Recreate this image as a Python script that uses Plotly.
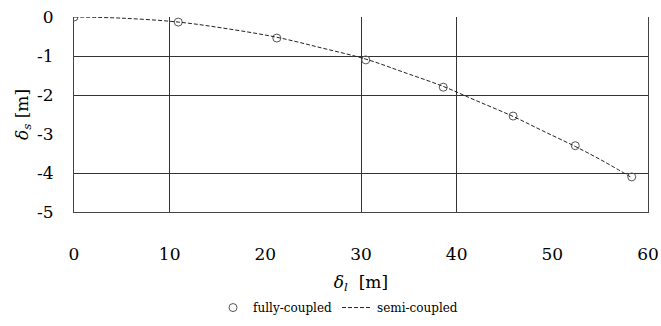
import plotly.graph_objects as go

# Data
delta_l_fully = [0.0, 10.9, 21.2, 30.5, 38.6, 45.9, 52.4, 58.3]
delta_s_fully = [0.0, -0.13, -0.54, -1.10, -1.80, -2.54, -3.30, -4.10]

delta_l_semi = [0.0, 5.0, 10.9, 16.0, 21.2, 26.0, 30.5, 34.5, 38.6, 42.0, 45.9, 49.0, 52.4, 55.5, 58.3]
delta_s_semi = [0.0, -0.03, -0.13, -0.30, -0.52, -0.80, -1.08, -1.42, -1.78, -2.14, -2.55, -2.92, -3.32, -3.72, -4.12]

x_ticks = [0, 10, 20, 30, 40, 50, 60]
y_ticks = [0, -1, -2, -3, -4, -5]
y_ticktext = ["0", "-1", "-2", "-3", "-4", "-5"]
x_grid = [10, 30, 40]
y_grid = [-1, -2, -4]

serif = "DejaVu Serif"

fig = go.Figure()
fig.add_trace(go.Scatter(
    x=delta_l_fully, y=delta_s_fully, mode="markers", name="fully-coupled",
    marker=dict(symbol="circle-open", size=8, color="#555", line=dict(width=1, color="#555")),
))
fig.add_trace(go.Scatter(
    x=delta_l_semi, y=delta_s_semi, mode="lines", name="semi-coupled",
    line=dict(color="#222", width=1, dash="4px,2px", shape="spline"),
))
# invisible helper carrying the partial gridlines
fig.add_trace(go.Scatter(x=[0], y=[0], xaxis="x2", yaxis="y2", mode="markers",
                         marker=dict(opacity=0), showlegend=False, hoverinfo="skip"))

fig.update_layout(
    width=661, height=326,
    margin=dict(l=74, r=13, t=17, b=114, autoexpand=False),
    paper_bgcolor="white", plot_bgcolor="rgba(0,0,0,0)",
    font=dict(family=serif, color="black"),
    xaxis=dict(range=[0, 60], tickvals=x_ticks, showgrid=False, zeroline=False,
               showline=True, linecolor="#444", linewidth=1,
               ticks="outside", ticklen=27, tickcolor="rgba(0,0,0,0)",
               tickfont=dict(size=17, family=serif),
               title=dict(text="<i>δ</i><sub><i>l</i></sub>  [m]", font=dict(size=17, family=serif), standoff=12)),
    yaxis=dict(range=[-5, 0], tickvals=y_ticks, ticktext=y_ticktext, showgrid=False, zeroline=False,
               showline=True, mirror=True, linecolor="#444", linewidth=1,
               ticks="outside", ticklen=16, tickcolor="rgba(0,0,0,0)",
               tickfont=dict(size=17, family=serif),
               title=dict(text="<i>δ</i><sub><i>s</i></sub> [m]", font=dict(size=17, family=serif), standoff=4)),
    xaxis2=dict(range=[0, 60], overlaying="x", tickvals=x_grid, showticklabels=False,
                showgrid=True, gridcolor="#333", gridwidth=1, zeroline=False, showline=False),
    yaxis2=dict(range=[-5, 0], overlaying="y", tickvals=y_grid, showticklabels=False,
                showgrid=True, gridcolor="#333", gridwidth=1, zeroline=False, showline=False),
    legend=dict(orientation="h", x=0.46, xanchor="center", y=-0.49, yanchor="middle",
                font=dict(size=12, family=serif), itemwidth=30, bgcolor="rgba(0,0,0,0)"),
    showlegend=True,
)

fig.write_html("out.html")
